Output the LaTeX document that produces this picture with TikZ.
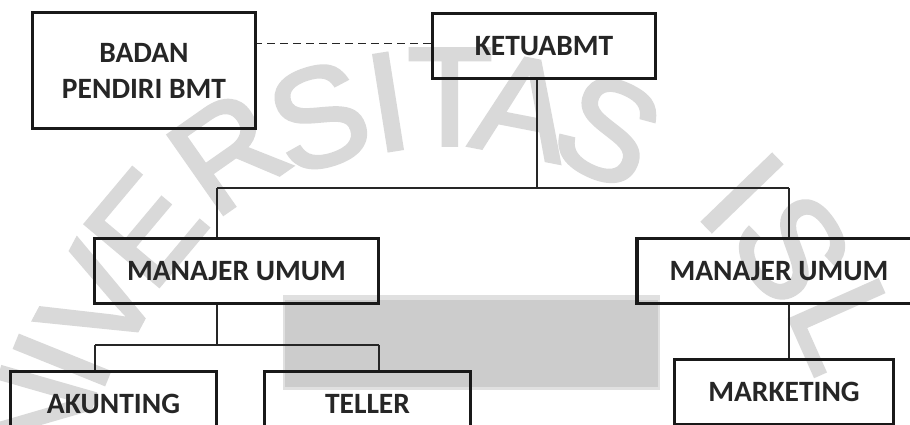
\documentclass[tikz,border=0pt]{standalone}
\usepackage{fontspec}
\setmainfont{Carlito}
\newfontfamily\markfont[FakeBold=2.5]{Liberation Sans}
\begin{document}
\begin{tikzpicture}[x=1pt,y=-1pt,
  orgbox/.style={draw=black!90, line width=3.5pt, inner sep=0pt, minimum height=65pt,
    font=\fontsize{29.5}{36}\selectfont\bfseries, text=black!85, align=center},
  link/.style={draw=black!85, line width=1.2pt},
  wm/.style={font=\markfont\fontsize{140}{140}\selectfont, text=black!15, inner sep=0pt}]
  % page frame
  \useasboundingbox (0,0) rectangle (910,425);
  \clip (0,0) rectangle (910,425);
  \fill[white] (0,0) rectangle (910,425);

  % faint watermark lettering on an arc
  \node[wm, rotate=74] (wN) at (38,418) {N};
  \node[wm, rotate=68] (wI1) at (62,360) {I};
  \node[wm, rotate=62] (wV) at (98,302) {V};
  \node[wm, rotate=50] (wE) at (145,228) {E};
  \node[wm, rotate=35] (wR) at (228,152) {R};
  \node[wm, rotate=18] (wS1) at (319,117) {S};
  \node[wm, rotate=9] (wI2) at (388,102) {I};
  \node[wm, rotate=0] (wT) at (450,97) {T};
  \node[wm, rotate=-11] (wA) at (523,107) {A};
  \node[wm, rotate=-25] (wS2) at (608,130) {S};
  \node[wm, rotate=-46] (wI3) at (742,193) {I};
  \node[wm, rotate=-57] (wS3) at (792,248) {S};
  \node[wm, rotate=-66] (wL) at (845,325) {L};

  % grey panel in the middle
  \fill[black!12] (283,295) rectangle (660,390);
  \fill[black!20] (285,300) rectangle (658,387);

  % boxes
  \node[orgbox, minimum width=223pt, minimum height=116pt] (badan) at (144,70.5) {BADAN\\PENDIRI BMT};
  \node[orgbox, minimum width=223pt] (ketua) at (544,46) {KETUABMT};
  \node[orgbox, minimum width=284pt] (mgrL) at (236.5,271) {MANAJER UMUM};
  \node[orgbox, minimum width=284pt] (mgrR) at (779,271) {MANAJER UMUM};
  \node[orgbox, minimum width=206pt] (akun) at (113.5,404) {AKUNTING};
  \node[orgbox, minimum width=206pt] (teller) at (367.5,404) {TELLER};
  \node[orgbox, minimum width=219pt] (mkt) at (784,392) {MARKETING};

  % junction points
  \coordinate (j0) at (537,188);
  \coordinate (tl) at (217,188);
  \coordinate (tr) at (789,188);
  \coordinate (sm) at (217,345);
  \coordinate (sl) at (95,345);
  \coordinate (sr) at (379,345);

  % connectors
  \draw[link, line width=1pt, dash pattern=on 8pt off 5pt] (ketua.west |- 0,44) -- (badan.east |- 0,44);
  \draw[link] (j0 |- ketua.south) -- (j0);
  \draw[link] (tl) -- (tr);
  \draw[link] (tl) -- (tl |- mgrL.north);
  \draw[link] (tr) -- (tr |- mgrR.north);
  \draw[link] (sm |- mgrL.south) -- (sm);
  \draw[link] (sl) -- (sr);
  \draw[link] (sl) -- (sl |- akun.north);
  \draw[link] (sr) -- (sr |- teller.north);
  \draw[link] (tr |- mgrR.south) -- (tr |- mkt.north);
\end{tikzpicture}
\end{document}
